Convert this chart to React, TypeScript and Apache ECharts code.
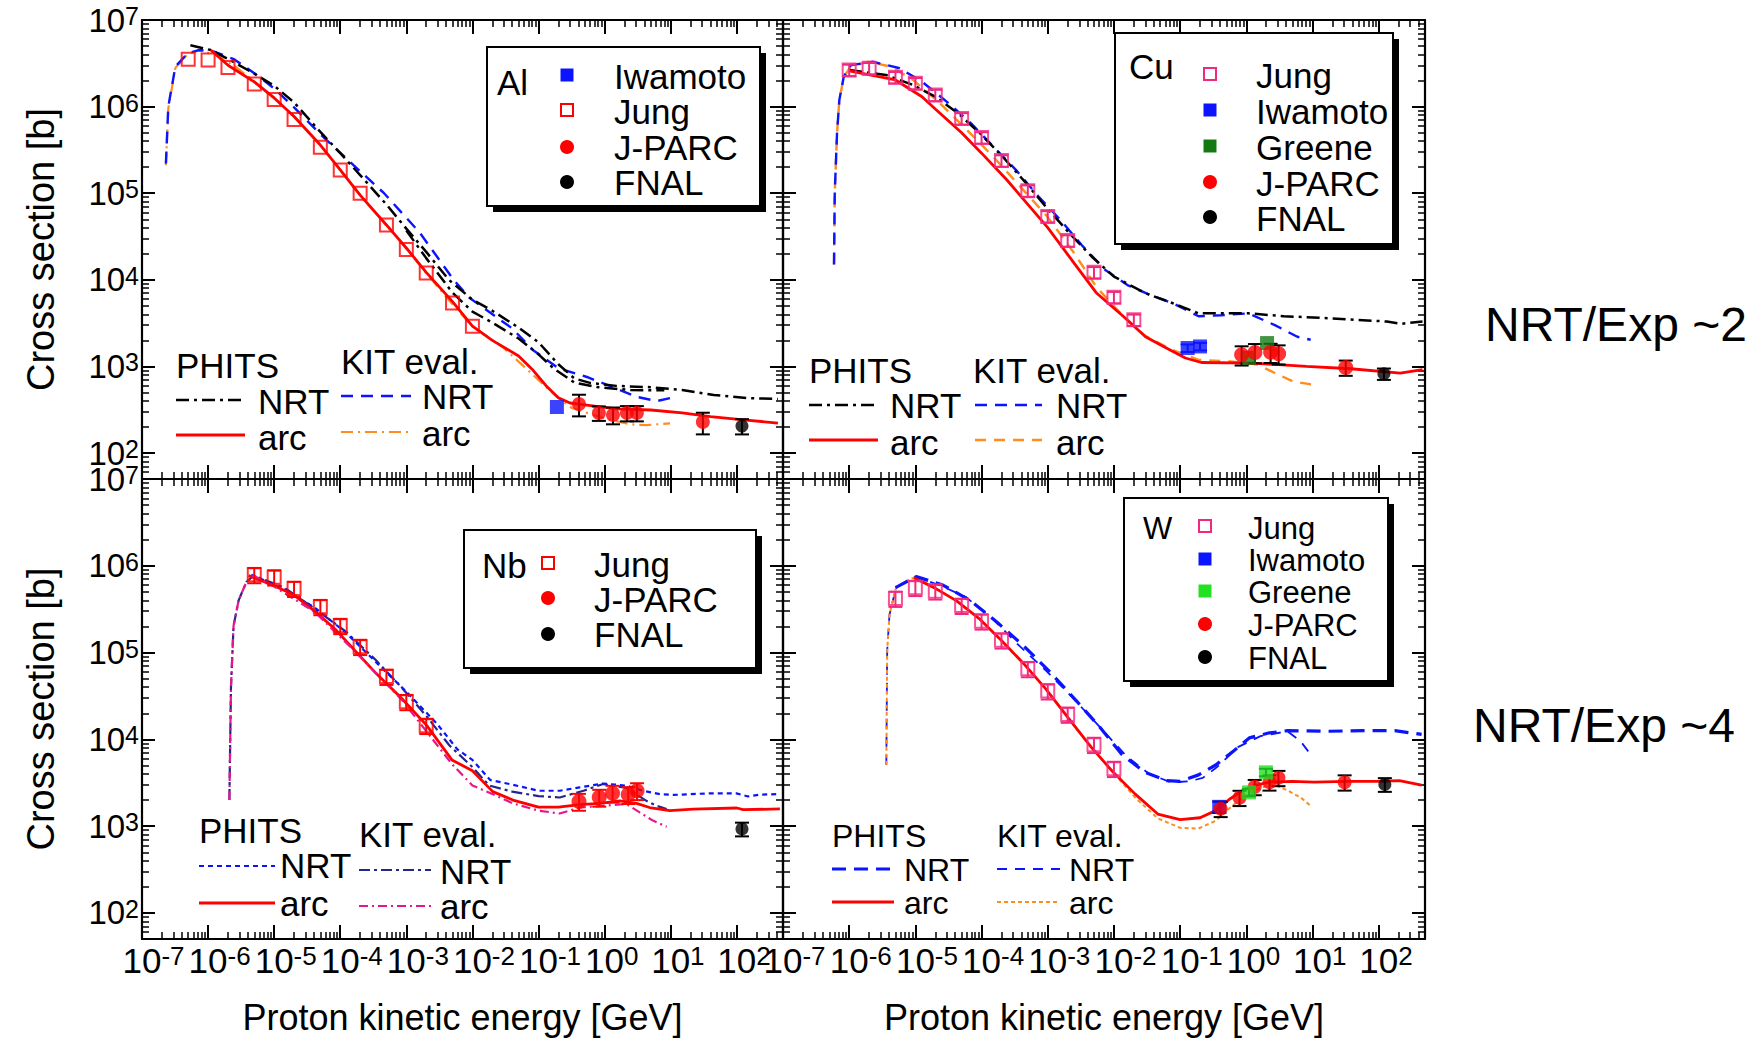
import React, { useEffect, useRef } from "react";
import * as echarts from "echarts";

type Pt = [number, number];
type Ex = [number, number, number]; // energy [GeV], cross section [b], relative error

const FONT = "'Liberation Sans', Arial, Helvetica, sans-serif";

// ---------- axes (exponents of ten) ----------
const X_MIN_EXP = -7;
const X_MAX_EXP = 2.7;
const Y_MIN_EXP = 1.7;
const Y_MAX_EXP = 7;
const X_TICK_EXP = [-7, -6, -5, -4, -3, -2, -1, 0, 1, 2];
const Y_TICK_EXP = [2, 3, 4, 5, 6, 7];
const X_TITLE = "Proton kinetic energy [GeV]";
const Y_TITLE = "Cross section [b]";

// ---------- Al ----------
const AL_JUNG: Ex[] = [
  [5e-7, 3.52e6, 0], [1e-6, 3.45e6, 0], [2e-6, 2.82e6, 0], [5e-6, 1.82e6, 0], [1e-5, 1.21e6, 0],
  [2e-5, 7.1e5, 0], [5e-5, 3.4e5, 0], [1e-4, 1.85e5, 0], [2e-4, 1.0e5, 0], [5e-4, 4.3e4, 0],
  [1e-3, 2.24e4, 0], [2e-3, 1.2e4, 0], [5e-3, 5.4e3, 0], [1e-2, 2.9e3, 0],
];
const AL_IWAMOTO: Ex[] = [[0.19, 340, 0]];
const AL_JPARC: Ex[] = [[0.41, 368, 0.28], [0.82, 290, 0.19], [1.34, 275, 0.22], [2.18, 290, 0.2], [3.08, 290, 0.2], [30.7, 228, 0.28]];
const AL_FNAL: Ex[] = [[120, 205, 0.2]];
const AL_PHITS_NRT: Pt[] = [
  [5.4e-7, 5.1e6], [1.1e-6, 4.5e6], [2e-6, 3.55e6], [5e-6, 2.4e6], [1e-5, 1.74e6], [2e-5, 1.12e6],
  [5e-5, 5.1e5], [1e-4, 2.9e5], [2e-4, 1.62e5], [5e-4, 7.4e4], [1e-3, 3.9e4], [2e-3, 2.1e4],
  [4.4e-3, 1.0e4], [1e-2, 5.9e3], [2e-2, 4.4e3], [5e-2, 2.8e3], [0.1, 1.9e3], [0.2, 1.06e3],
  [0.35, 725], [0.6, 645], [1.5, 596], [5, 575], [15, 535], [45, 468], [140, 432], [420, 421],
];
const AL_PHITS_NRT_2: Pt[] = [
  [1e-3, 3.7e4], [2e-3, 1.78e4], [5e-3, 7.1e3], [1e-2, 4.3e3], [2e-2, 3.2e3], [5e-2, 2.1e3],
  [0.1, 1.38e3], [0.17, 945], [0.35, 650], [0.8, 575], [2.5, 533], [8, 530],
];
const AL_PHITS_ARC: Pt[] = [
  [1.1e-6, 4.5e6], [2e-6, 3.0e6], [5e-6, 1.93e6], [1e-5, 1.26e6], [2e-5, 7.7e5], [5e-5, 3.6e5],
  [1e-4, 1.86e5], [2e-4, 9.5e4], [5e-4, 4.3e4], [1e-3, 2.33e4], [2e-3, 1.22e4], [5e-3, 5.6e3],
  [1e-2, 2.92e3], [2e-2, 2.0e3], [5e-2, 1.32e3], [0.08, 930], [0.13, 600], [0.2, 435], [0.3, 378],
  [0.5, 360], [1.5, 323], [5, 314], [15, 290], [40, 263], [140, 240], [420, 222],
];
const AL_KIT_NRT: Pt[] = [
  [2.3e-7, 2.2e5], [2.5e-7, 1.0e6], [3.2e-7, 2.9e6], [4.9e-7, 4.1e6], [7.2e-7, 4.5e6], [1.26e-6, 4.3e6],
  [2.5e-6, 3.5e6], [5e-6, 2.43e6], [1e-5, 1.62e6], [2e-5, 9.8e5], [5e-5, 4.8e5], [1.6e-4, 2.1e5],
  [4.6e-4, 1.0e5], [1.6e-3, 3.5e4], [5.2e-3, 1.0e4], [9e-3, 6.2e3], [4e-2, 2.75e3], [8.2e-2, 1.55e3],
  [0.2, 955], [0.54, 755], [1.2, 594], [3.1, 444], [6.2, 398], [9.8, 431],
];
const AL_KIT_ARC: Pt[] = [
  [2.3e-7, 2.1e5], [2.5e-7, 9.5e5], [3.2e-7, 2.8e6], [4.9e-7, 4.05e6], [7.2e-7, 4.45e6], [1.26e-6, 4.0e6],
  [2.5e-6, 2.95e6], [5e-6, 1.95e6], [1e-5, 1.26e6], [2e-5, 7.7e5], [5e-5, 3.6e5], [1e-4, 1.86e5],
  [2e-4, 9.5e4], [5e-4, 4.3e4], [1e-3, 2.3e4], [2e-3, 1.2e4], [5e-3, 5.2e3], [1e-2, 2.9e3],
  [2.9e-2, 1.66e3], [6e-2, 1.0e3], [0.19, 444], [0.32, 331], [1.0, 251], [2.5, 214], [4.3, 210], [9.8, 220],
];

// ---------- Cu ----------
const CU_JUNG: Ex[] = [
  [1e-6, 2.65e6, 0.15], [2e-6, 2.77e6, 0.15], [5e-6, 2.18e6, 0.15], [1e-5, 1.86e6, 0.15], [2e-5, 1.36e6, 0.15],
  [5e-5, 7.3e5, 0.15], [1e-4, 4.4e5, 0.15], [2e-4, 2.38e5, 0.15], [5e-4, 1.07e5, 0.15], [1e-3, 5.4e4, 0.15],
  [2e-3, 2.84e4, 0.15], [5e-3, 1.22e4, 0.15], [1e-2, 6.3e3, 0.15], [2e-2, 3.45e3, 0.15],
];
const CU_IWAMOTO: Ex[] = [[0.13, 1630, 0.1], [0.2, 1700, 0.1]];
const CU_GREENE: Ex[] = [[1.1, 1260, 0], [2.06, 1860, 0]];
const CU_JPARC: Ex[] = [[0.85, 1365, 0.25], [1.35, 1450, 0.25], [2.33, 1460, 0.25], [3.08, 1400, 0.25], [31.8, 973, 0.2]];
const CU_FNAL: Ex[] = [[120, 822, 0.15]];
const CU_PHITS_NRT: Pt[] = [
  [1e-6, 2.65e6], [3.6e-6, 2.32e6], [9.2e-6, 1.78e6], [2e-5, 1.3e6], [4.4e-5, 8.4e5], [9.5e-5, 4.9e5],
  [2.07e-4, 2.65e5], [4.5e-4, 1.36e5], [9.8e-4, 6.7e4], [2.13e-3, 3.45e4], [4.6e-3, 1.86e4], [1e-2, 1.09e4],
  [3e-2, 7.0e3], [7.6e-2, 5.4e3], [0.19, 4.1e3], [1.07, 4.1e3], [3.7, 3.8e3], [17.6, 3.6e3], [133, 3.3e3],
  [212, 3.1e3], [460, 3.3e3],
];
const CU_PHITS_ARC: Pt[] = [
  [1e-6, 2.58e6], [5e-6, 2.03e6], [1.26e-5, 1.3e6], [2e-5, 9.4e5], [5e-5, 5.0e5], [1e-4, 2.9e5],
  [2.4e-4, 1.43e5], [1e-3, 4.0e4], [2.5e-3, 1.56e4], [5.4e-3, 7.1e3], [1.38e-2, 3.8e3], [3e-2, 2.2e3],
  [5.6e-2, 1.7e3], [0.12, 1.25e3], [0.21, 1.11e3], [1.25, 1.09e3], [8.1, 1.0e3], [38, 940], [212, 838], [460, 916],
];
const CU_KIT_NRT: Pt[] = [
  [5.9e-7, 1.5e4], [6.05e-7, 1.0e5], [6.55e-7, 4.9e5], [7.1e-7, 1.19e6], [8.3e-7, 2.24e6], [1.05e-6, 3.0e6],
  [2.27e-6, 3.3e6], [5.8e-6, 2.77e6], [1.26e-5, 1.94e6], [3.2e-5, 1.09e6], [6.95e-5, 6.4e5], [1.51e-4, 3.45e5],
  [3.3e-4, 1.86e5], [7.2e-4, 9.2e4], [1.56e-3, 4.9e4], [3.4e-3, 2.43e4], [7.4e-3, 1.3e4], [1.6e-2, 8.7e3],
  [3.5e-2, 6.7e3], [7.6e-2, 5.4e3], [0.19, 3.8e3], [0.42, 3.9e3], [1.07, 4.1e3], [2.7, 3.0e3], [5.9, 2.2e3], [9.4, 2.03e3],
];
const CU_KIT_ARC: Pt[] = [
  [5.9e-7, 1.5e4], [6.05e-7, 1.0e5], [6.55e-7, 4.9e5], [7.1e-7, 1.19e6], [8.3e-7, 2.2e6], [1.05e-6, 2.9e6],
  [1.95e-6, 3.3e6], [4.2e-6, 2.9e6], [9.2e-6, 2.04e6], [2.34e-5, 1.1e6], [5.96e-5, 5.4e5], [1.51e-4, 2.63e5],
  [3.85e-4, 1.19e5], [9.8e-4, 5.4e4], [2.5e-3, 2.04e4], [5.4e-3, 8.3e3], [1.38e-2, 3.8e3], [3e-2, 2.24e3],
  [7.6e-2, 1.55e3], [0.19, 1.19e3], [0.58, 1.14e3], [1.46, 1.05e3], [2.7, 840], [5.1, 670], [10.2, 615],
];

// ---------- Nb ----------
const NB_JUNG: Ex[] = [
  [5e-6, 7.87e5, 0.2], [1e-5, 7.4e5, 0.2], [2e-5, 5.46e5, 0.2], [5e-5, 3.37e5, 0.2], [1e-4, 2.04e5, 0.2],
  [2e-4, 1.17e5, 0.2], [5e-4, 5.3e4, 0.2], [1e-3, 2.71e4, 0.2], [2e-3, 1.44e4, 0.2],
];
const NB_JPARC: Ex[] = [[0.41, 1930, 0.22], [0.83, 2150, 0.22], [1.32, 2390, 0.22], [2.28, 2310, 0.22], [3.1, 2560, 0.22]];
const NB_FNAL: Ex[] = [[120, 930, 0.18]];
const NB_PHITS_NRT: Pt[] = [
  [4.5e-6, 7.9e5], [1.43e-5, 5.35e5], [4.1e-5, 3.3e5], [1.19e-4, 1.72e5], [3.45e-4, 7.8e4], [1e-3, 3.55e4],
  [2.9e-3, 1.52e4], [5.9e-3, 7.7e3], [1e-2, 5.8e3], [1.86e-2, 3.4e3], [4.1e-2, 3.0e3], [0.1, 2.56e3],
  [0.21, 2.56e3], [0.42, 2.8e3], [0.95, 3.1e3], [2.15, 2.93e3], [3.84, 2.56e3], [6.9, 2.34e3], [10.9, 2.29e3],
  [39, 2.39e3], [99, 2.39e3], [148, 2.2e3], [224, 2.31e3], [450, 2.34e3],
];
const NB_PHITS_ARC: Pt[] = [
  [4.1e-6, 7.7e5], [1e-5, 5.9e5], [2e-5, 4.6e5], [4.1e-5, 3.0e5], [8.4e-5, 1.86e5], [1.7e-4, 1.04e5],
  [3.45e-4, 5.8e4], [8.4e-4, 3.0e4], [2.03e-3, 1.45e4], [4.9e-3, 5.8e3], [1e-2, 4.35e3], [2.03e-2, 2.5e3],
  [4.1e-2, 2.0e3], [0.1, 1.66e3], [0.2, 1.66e3], [0.42, 1.77e3], [0.85, 1.83e3], [1.7, 1.96e3], [3.05, 1.83e3],
  [4.8, 1.64e3], [9.7, 1.51e3], [22, 1.57e3], [100, 1.62e3], [125, 1.55e3], [450, 1.58e3],
];
const NB_KIT_NRT: Pt[] = [
  [2.1e-6, 2.0e3], [2.22e-6, 4.0e4], [2.43e-6, 2.04e5], [2.9e-6, 4.0e5], [3.8e-6, 6.5e5], [4.9e-6, 7.7e5],
  [1.43e-5, 5.6e5], [4.1e-5, 3.2e5], [1.19e-4, 1.77e5], [3.45e-4, 8.2e4], [8.4e-4, 4.0e4], [2.03e-3, 1.84e4],
  [4.5e-3, 8.5e3], [1e-2, 4.8e3], [1.78e-2, 2.95e3], [4e-2, 2.5e3], [0.1, 2.22e3], [0.21, 2.14e3],
  [0.48, 2.56e3], [0.95, 3.06e3], [2.15, 2.75e3], [4.3, 1.96e3], [6.1, 1.72e3], [8.7, 1.58e3],
];
const NB_KIT_ARC: Pt[] = [
  [2.1e-6, 2.0e3], [2.22e-6, 4.0e4], [2.43e-6, 2.04e5], [2.9e-6, 4.0e5], [3.8e-6, 6.5e5], [4.9e-6, 7.7e5],
  [1e-5, 5.75e5], [4.1e-5, 2.95e5], [1.7e-4, 1.02e5], [8.4e-4, 2.9e4], [4.9e-3, 5.2e3], [1e-2, 2.95e3],
  [2.04e-2, 2.33e3], [4.1e-2, 1.83e3], [0.1, 1.51e3], [0.21, 1.4e3], [0.42, 1.64e3], [2.15, 1.8e3],
  [3.4, 1.44e3], [5.4, 1.16e3], [8.7, 985],
];

// ---------- W ----------
const W_JUNG: Ex[] = [
  [5e-6, 4.2e5, 0.2], [1e-5, 5.6e5, 0.2], [2e-5, 5.1e5, 0.2], [5e-5, 3.48e5, 0.2], [1e-4, 2.3e5, 0.2],
  [2e-4, 1.39e5, 0.2], [5e-4, 6.5e4, 0.2], [1e-3, 3.6e4, 0.2], [2e-3, 1.94e4, 0.2], [5e-3, 8.7e3, 0.2], [1e-2, 4.6e3, 0.2],
];
const W_IWAMOTO: Ex[] = [[0.39, 1670, 0.15]];
const W_GREENE: Ex[] = [[1.1, 2450, 0.1], [1.98, 4170, 0.1]];
const W_JPARC: Ex[] = [[0.41, 1590, 0.2], [0.79, 2130, 0.2], [1.34, 2840, 0.2], [2.24, 3210, 0.2], [3.06, 3610, 0.2], [30.6, 3210, 0.2]];
const W_FNAL: Ex[] = [[124, 3030, 0.18]];
const W_PHITS_NRT: Pt[] = [
  [5e-6, 5.6e5], [1.03e-5, 7.5e5], [2.6e-5, 6.0e5], [6.7e-5, 4.0e5], [1.7e-4, 2.25e5], [4.3e-4, 1.2e5],
  [1.1e-3, 5.9e4], [2.8e-3, 2.7e4], [6.1e-3, 1.39e4], [1.32e-2, 6.7e3], [2.9e-2, 4.2e3], [6.3e-2, 3.34e3],
  [0.1, 3.28e3], [0.19, 3.9e3], [0.35, 5.1e3], [0.65, 7.4e3], [1.11, 1.04e4], [2.24, 1.19e4], [4.2, 1.26e4],
  [17, 1.24e4], [59, 1.26e4], [175, 1.26e4], [446, 1.14e4],
];
const W_PHITS_ARC: Pt[] = [
  [9.5e-6, 7.3e5], [1.92e-5, 5.6e5], [4.2e-5, 3.94e5], [9.1e-5, 2.48e5], [1.98e-4, 1.39e5], [4.3e-4, 7.5e4],
  [9.4e-4, 3.8e4], [2.05e-3, 1.76e4], [4.5e-3, 8.2e3], [9.7e-3, 4.2e3], [2.1e-2, 2.34e3], [4.6e-2, 1.38e3],
  [0.1, 1.19e3], [0.2, 1.25e3], [0.35, 1.52e3], [0.55, 2.03e3], [0.88, 2.58e3], [1.41, 2.98e3], [2.24, 3.21e3],
  [4.9, 3.28e3], [10.6, 3.21e3], [32, 3.28e3], [94, 3.28e3], [205, 3.34e3], [446, 2.98e3],
];
const W_KIT_NRT: Pt[] = [
  [3.64e-6, 5.1e3], [3.75e-6, 1.05e5], [4.06e-6, 2.73e5], [5.1e-6, 5.6e5], [7.6e-6, 6.8e5], [1.03e-5, 7.5e5],
  [2.6e-5, 5.75e5], [5.7e-5, 4.4e5], [1.45e-4, 2.48e5], [3.7e-4, 1.2e5], [9.4e-4, 6.2e4], [2.4e-3, 3.0e4],
  [6.1e-3, 1.39e4], [1.55e-2, 6.4e3], [3.4e-2, 4.0e3], [7.3e-2, 3.2e3], [0.136, 3.28e3], [0.22, 3.6e3],
  [0.35, 4.7e3], [0.76, 8.2e3], [1.64, 1.09e4], [4.2, 1.24e4], [6.7, 9.4e3], [9.8, 6.4e3],
];
const W_KIT_ARC: Pt[] = [
  [3.64e-6, 5.1e3], [3.75e-6, 1.05e5], [4.06e-6, 2.73e5], [5.1e-6, 5.6e5], [7.6e-6, 6.8e5], [1.03e-5, 7.5e5],
  [1.92e-5, 5.6e5], [4.2e-5, 3.94e5], [9.1e-5, 2.48e5], [1.98e-4, 1.39e5], [4.3e-4, 7.5e4], [9.4e-4, 3.8e4],
  [2.05e-3, 1.76e4], [4.5e-3, 8.2e3], [9.7e-3, 4.2e3], [2.1e-2, 2.13e3], [4.6e-2, 1.23e3], [0.1, 957],
  [0.19, 940], [0.35, 1.16e3], [0.55, 1.6e3], [0.88, 2.13e3], [1.64, 2.76e3], [2.62, 3.03e3], [4.2, 2.58e3],
  [6.7, 2.13e3], [9.1, 1.75e3],
];

// ---------- styles ----------
const RED = "#ff0000";
const BLUE = "#0a14ff";
const ORANGE = "#ff8c1e";
const PINK = "#f2287e";
const NAVY = "#24268c";
const MAGENTA = "#e8168c";
const DKGREEN = "#137a13";
const LIME = "#22e022";

type LS = { color: string; width: number; dash: number[] | null };
const S_PHITS_NRT_BLACK: LS = { color: "#000", width: 2.5, dash: [13, 5, 3, 5] };
const S_PHITS_ARC: LS = { color: RED, width: 2.8, dash: null };
const S_KIT_NRT_BLUE: LS = { color: BLUE, width: 2.4, dash: [12, 8] };
const S_AL_KIT_ARC: LS = { color: ORANGE, width: 2.2, dash: [12, 5, 2, 5] };
const S_CU_KIT_ARC: LS = { color: ORANGE, width: 2.4, dash: [11, 8] };
const S_NB_PHITS_NRT: LS = { color: BLUE, width: 2.2, dash: [5, 4] };
const S_NB_KIT_NRT: LS = { color: NAVY, width: 2.2, dash: [11, 4, 3, 4] };
const S_NB_KIT_ARC: LS = { color: MAGENTA, width: 2.2, dash: [9, 4, 2, 4] };
const S_W_PHITS_NRT: LS = { color: BLUE, width: 3.2, dash: [14, 8] };
const S_W_KIT_NRT: LS = { color: BLUE, width: 1.8, dash: [10, 8] };
const S_W_KIT_ARC: LS = { color: ORANGE, width: 2, dash: [4, 3] };

const GRIDS = [
  { left: 142, top: 20, width: 641, height: 459 },
  { left: 783, top: 20, width: 642, height: 459 },
  { left: 142, top: 479, width: 641, height: 460 },
  { left: 783, top: 479, width: 642, height: 460 },
];

const lg = (v: number) => Math.log10(v);

function minorValues(from: number, to: number, lo: number, hi: number) {
  const out: number[] = [];
  for (let n = from; n <= to; n++) {
    for (let k = 2; k <= 9; k++) {
      const v = n + Math.log10(k);
      if (v > lo && v < hi) out.push(v);
    }
  }
  return out;
}

// x labels: "10" centred on its tick, exponent hanging to the right
const X_B = 35;
const X_S = 26;
const PX_PER_DECADE = 641 / (X_MAX_EXP - X_MIN_EXP);
const supWidth = (e: number) => X_S * ((e < 0 ? 0.333 : 0) + 0.556 * String(Math.abs(e)).length);
const X_LABEL_POS = X_TICK_EXP.map((e) => e + supWidth(e) / 2 / PX_PER_DECADE);

const X_RICH = {
  b: { fontSize: X_B, lineHeight: X_B, padding: [7, 0, 0, 0], verticalAlign: "bottom", fontFamily: FONT, color: "#000" },
  s: { fontSize: X_S, lineHeight: X_S, verticalAlign: "top", fontFamily: FONT, color: "#000" },
};
const Y_RICH = {
  b: { fontSize: 33, lineHeight: 33, padding: [5, 0, 0, 0], verticalAlign: "bottom", fontFamily: FONT, color: "#000" },
  s: { fontSize: 25, lineHeight: 25, verticalAlign: "top", fontFamily: FONT, color: "#000" },
};

const isInt = (v: number) => Math.abs(v - Math.round(v)) < 1e-9;
const xFmt = (v: number) => `{b|10}{s|${Math.round(v)}}`;
const yFmt = (v: number) => (isInt(v) ? `{b|10}{s|${Math.round(v)}}` : "");

function buildOption() {
  const X_MINOR = minorValues(-7, 2, X_MIN_EXP, X_MAX_EXP);
  const Y_MINOR = minorValues(1, 6, Y_MIN_EXP, Y_MAX_EXP);

  const xAxes: any[] = [];
  const yAxes: any[] = [];
  const axisBase = { type: "value", silent: true, splitLine: { show: false }, minorTick: { show: false }, axisPointer: { show: false } };

  GRIDS.forEach((_, gi) => {
    const showX = gi >= 2;
    const showY = gi % 2 === 0;
    ["bottom", "top"].forEach((pos) => {
      const lab = pos === "bottom" && showX;
      xAxes.push({
        ...axisBase, gridIndex: gi, position: pos, min: X_MIN_EXP, max: X_MAX_EXP,
        axisLine: { show: true, onZero: false, lineStyle: { color: "#000", width: 2.2 } },
        axisTick: { show: true, inside: true, length: 14, customValues: X_TICK_EXP, lineStyle: { color: "#000", width: 2 } },
        axisLabel: { show: false },
        name: lab ? X_TITLE : "", nameLocation: "middle", nameGap: 60,
        nameTextStyle: { fontSize: 36, fontFamily: FONT, color: "#000" },
      });
      xAxes.push({
        ...axisBase, gridIndex: gi, position: pos, min: X_MIN_EXP, max: X_MAX_EXP,
        axisLine: { show: false, onZero: false },
        axisTick: { show: true, inside: true, length: 7, customValues: X_MINOR, lineStyle: { color: "#000", width: 1.5 } },
        axisLabel: lab
          ? { show: true, customValues: X_LABEL_POS, margin: 4, formatter: xFmt, rich: X_RICH, color: "#000", hideOverlap: false, showMinLabel: true, showMaxLabel: true }
          : { show: false },
      });
    });
    ["left", "right"].forEach((pos) => {
      const lab = pos === "left" && showY;
      yAxes.push({
        ...axisBase, gridIndex: gi, position: pos, min: Y_MIN_EXP, max: Y_MAX_EXP,
        axisLine: { show: true, onZero: false, lineStyle: { color: "#000", width: 2.2 } },
        axisTick: { show: true, inside: true, length: 13, customValues: Y_TICK_EXP, lineStyle: { color: "#000", width: 2 } },
        axisLabel: lab
          ? { show: true, customValues: Y_TICK_EXP, margin: 3, formatter: yFmt, rich: Y_RICH, color: "#000", hideOverlap: false, showMinLabel: true, showMaxLabel: true }
          : { show: false },
        name: lab ? Y_TITLE : "", nameLocation: "middle", nameGap: 82, nameRotate: 90,
        nameTextStyle: { fontSize: 38, fontFamily: FONT, color: "#000" },
      });
      yAxes.push({
        ...axisBase, gridIndex: gi, position: pos, min: Y_MIN_EXP, max: Y_MAX_EXP,
        axisLine: { show: false, onZero: false },
        axisTick: { show: true, inside: true, length: 7, customValues: Y_MINOR, lineStyle: { color: "#000", width: 1.5 } },
        axisLabel: { show: false },
      });
    });
  });

  const series: any[] = [];
  const line = (g: number, name: string, data: Pt[], st: LS) =>
    series.push({
      type: "line", name, xAxisIndex: 4 * g, yAxisIndex: 4 * g, z: 2, silent: true,
      symbol: "none", showSymbol: false, animation: false,
      data: data.map(([e, s]) => [lg(e), lg(s)]),
      lineStyle: { color: st.color, width: st.width, type: st.dash ? st.dash : "solid", cap: "butt" },
    });
  const errs = (g: number, name: string, data: Ex[], color: string) =>
    series.push({
      type: "custom", name: name + " err", xAxisIndex: 4 * g, yAxisIndex: 4 * g, z: 3, silent: true,
      data: data.filter((d) => d[2] > 0).map(([e, s, f]) => [lg(e), lg(s * (1 - f)), lg(s * (1 + f))]),
      encode: { x: 0, y: [1, 2] },
      renderItem: (_p: any, api: any) => {
        const x = api.value(0);
        const a = api.coord([x, api.value(1)]);
        const b = api.coord([x, api.value(2)]);
        const w = 7;
        const st = { stroke: color, lineWidth: 2 };
        return {
          type: "group",
          children: [
            { type: "line", shape: { x1: a[0], y1: a[1], x2: b[0], y2: b[1] }, style: st },
            { type: "line", shape: { x1: a[0] - w, y1: a[1], x2: a[0] + w, y2: a[1] }, style: st },
            { type: "line", shape: { x1: b[0] - w, y1: b[1], x2: b[0] + w, y2: b[1] }, style: st },
          ],
        };
      },
    });
  const pts = (g: number, name: string, data: Ex[], symbol: string, size: number, color: string, open = false) =>
    series.push({
      type: "scatter", name, xAxisIndex: 4 * g, yAxisIndex: 4 * g, z: 4, silent: true,
      data: data.map(([e, s]) => [lg(e), lg(s)]),
      symbol, symbolSize: size,
      itemStyle: open ? { color: "rgba(0,0,0,0)", borderColor: color, borderWidth: 2 } : { color, borderWidth: 0 },
    });

  // Al
  line(0, "KIT eval. arc", AL_KIT_ARC, S_AL_KIT_ARC);
  line(0, "KIT eval. NRT", AL_KIT_NRT, S_KIT_NRT_BLUE);
  line(0, "PHITS NRT", AL_PHITS_NRT, S_PHITS_NRT_BLACK);
  line(0, "PHITS NRT (2)", AL_PHITS_NRT_2, S_PHITS_NRT_BLACK);
  line(0, "PHITS arc", AL_PHITS_ARC, S_PHITS_ARC);
  errs(0, "J-PARC", AL_JPARC, "#000");
  errs(0, "FNAL", AL_FNAL, "#000");
  pts(0, "Jung", AL_JUNG, "rect", 13, RED, true);
  pts(0, "Iwamoto", AL_IWAMOTO, "rect", 14, BLUE);
  pts(0, "J-PARC", AL_JPARC, "circle", 14, RED);
  pts(0, "FNAL", AL_FNAL, "circle", 13, "#000");

  // Cu
  line(1, "KIT eval. arc", CU_KIT_ARC, S_CU_KIT_ARC);
  line(1, "KIT eval. NRT", CU_KIT_NRT, S_KIT_NRT_BLUE);
  line(1, "PHITS NRT", CU_PHITS_NRT, S_PHITS_NRT_BLACK);
  line(1, "PHITS arc", CU_PHITS_ARC, S_PHITS_ARC);
  errs(1, "Jung", CU_JUNG, PINK);
  errs(1, "Iwamoto", CU_IWAMOTO, BLUE);
  errs(1, "J-PARC", CU_JPARC, "#000");
  errs(1, "FNAL", CU_FNAL, "#000");
  pts(1, "Jung", CU_JUNG, "rect", 13, PINK, true);
  pts(1, "Iwamoto", CU_IWAMOTO, "rect", 14, BLUE);
  pts(1, "Greene", CU_GREENE, "rect", 14, DKGREEN);
  pts(1, "J-PARC", CU_JPARC, "circle", 15, RED);
  pts(1, "FNAL", CU_FNAL, "circle", 13, "#000");

  // Nb
  line(2, "KIT eval. NRT", NB_KIT_NRT, S_NB_KIT_NRT);
  line(2, "PHITS NRT", NB_PHITS_NRT, S_NB_PHITS_NRT);
  line(2, "PHITS arc", NB_PHITS_ARC, S_PHITS_ARC);
  line(2, "KIT eval. arc", NB_KIT_ARC, S_NB_KIT_ARC);
  errs(2, "Jung", NB_JUNG, RED);
  errs(2, "J-PARC", NB_JPARC, RED);
  errs(2, "FNAL", NB_FNAL, "#000");
  pts(2, "Jung", NB_JUNG, "rect", 13, RED, true);
  pts(2, "J-PARC", NB_JPARC, "circle", 15, RED);
  pts(2, "FNAL", NB_FNAL, "circle", 13, "#000");

  // W
  line(3, "KIT eval. NRT", W_KIT_NRT, S_W_KIT_NRT);
  line(3, "KIT eval. arc", W_KIT_ARC, S_W_KIT_ARC);
  line(3, "PHITS NRT", W_PHITS_NRT, S_W_PHITS_NRT);
  line(3, "PHITS arc", W_PHITS_ARC, S_PHITS_ARC);
  errs(3, "Jung", W_JUNG, PINK);
  errs(3, "Iwamoto", W_IWAMOTO, "#000");
  errs(3, "Greene", W_GREENE, "#000");
  errs(3, "J-PARC", W_JPARC, "#000");
  errs(3, "FNAL", W_FNAL, "#000");
  pts(3, "Jung", W_JUNG, "rect", 13, PINK, true);
  pts(3, "Iwamoto", W_IWAMOTO, "rect", 14, BLUE);
  pts(3, "J-PARC", W_JPARC, "circle", 14, RED);
  pts(3, "Greene", W_GREENE, "rect", 14, LIME);
  pts(3, "FNAL", W_FNAL, "circle", 13, "#000");

  // ---------- hand-drawn legends ----------
  const G: any[] = [];
  const T = (x: number, y: number, text: string, size = 35) =>
    G.push({
      type: "text", x, y, z: 60, silent: true,
      style: { text, fontSize: size, fontFamily: FONT, fill: "#000", align: "left", verticalAlign: "middle", textAlign: "left", textVerticalAlign: "middle" },
    });
  const L = (x1: number, x2: number, y: number, st: LS) =>
    G.push({ type: "line", z: 60, silent: true, shape: { x1, y1: y, x2, y2: y }, style: { stroke: st.color, lineWidth: st.width, lineDash: st.dash || undefined } });
  const BOX = (x: number, y: number, w: number, h: number) => {
    G.push({ type: "rect", z: 55, silent: true, shape: { x: x + 6, y: y + 6, width: w, height: h }, style: { fill: "#000" } });
    G.push({ type: "rect", z: 56, silent: true, shape: { x, y, width: w, height: h }, style: { fill: "#fff", stroke: "#000", lineWidth: 2 } });
  };
  const SQ = (cx: number, cy: number, size: number, color: string, open = false) =>
    G.push({
      type: "rect", z: 60, silent: true, shape: { x: cx - size / 2, y: cy - size / 2, width: size, height: size },
      style: open ? { fill: "none", stroke: color, lineWidth: 2 } : { fill: color },
    });
  const CI = (cx: number, cy: number, r: number, color: string) =>
    G.push({ type: "circle", z: 60, silent: true, shape: { cx, cy, r }, style: { fill: color } });

  // Al box
  BOX(487, 47, 273, 159);
  T(497, 82, "Al");
  SQ(567, 75, 13, BLUE); T(614, 76, "Iwamoto");
  SQ(567, 110, 12, RED, true); T(614, 111, "Jung");
  CI(567, 147, 7, RED); T(614, 147, "J-PARC");
  CI(567, 182, 7, "#000"); T(614, 182, "FNAL");
  // Al model legend
  T(176, 365, "PHITS"); T(341, 361, "KIT eval.");
  L(176, 245, 400, S_PHITS_NRT_BLACK); T(258, 401, "NRT");
  L(341, 411, 396, S_KIT_NRT_BLUE); T(422, 396, "NRT");
  L(176, 245, 435, S_PHITS_ARC); T(258, 437, "arc");
  L(341, 411, 432, S_AL_KIT_ARC); T(422, 433, "arc");

  // Cu box
  BOX(1115, 33, 278, 211);
  T(1129, 66, "Cu");
  SQ(1210, 74, 12, PINK, true); T(1256, 75, "Jung");
  SQ(1210, 110, 13, BLUE); T(1256, 111, "Iwamoto");
  SQ(1210, 146, 13, DKGREEN); T(1256, 147, "Greene");
  CI(1210, 182, 7, RED); T(1256, 183, "J-PARC");
  CI(1210, 217, 7, "#000"); T(1256, 218, "FNAL");
  // Cu model legend
  T(809, 370, "PHITS"); T(973, 370, "KIT eval.");
  L(809, 878, 405, S_PHITS_NRT_BLACK); T(890, 405, "NRT");
  L(975, 1042, 405, S_KIT_NRT_BLUE); T(1056, 405, "NRT");
  L(809, 878, 440, S_PHITS_ARC); T(890, 442, "arc");
  L(975, 1042, 440, S_CU_KIT_ARC); T(1056, 442, "arc");

  // Nb box
  BOX(464, 530, 292, 138);
  T(482, 565, "Nb");
  SQ(548, 563, 12, RED, true); T(594, 564, "Jung");
  CI(548, 598, 7, RED); T(594, 599, "J-PARC");
  CI(548, 634, 7, "#000"); T(594, 634, "FNAL");
  // Nb model legend
  T(199, 830, "PHITS"); T(359, 834, "KIT eval.");
  L(199, 275, 866, S_NB_PHITS_NRT); T(280, 865, "NRT");
  L(359, 431, 870, S_NB_KIT_NRT); T(440, 871, "NRT");
  L(199, 275, 903, S_PHITS_ARC); T(280, 903, "arc");
  L(359, 431, 906, S_NB_KIT_ARC); T(440, 906, "arc");

  // W box
  BOX(1124, 498, 264, 183);
  T(1143, 528, "W", 31);
  SQ(1205, 526, 12, PINK, true); T(1248, 528, "Jung", 31);
  SQ(1205, 559, 13, BLUE); T(1248, 560, "Iwamoto", 31);
  SQ(1205, 591, 13, LIME); T(1248, 592, "Greene", 31);
  CI(1205, 624, 7, RED); T(1248, 625, "J-PARC", 31);
  CI(1205, 657, 7, "#000"); T(1248, 658, "FNAL", 31);
  // W model legend
  T(832, 836, "PHITS", 32); T(997, 836, "KIT eval.", 32);
  L(832, 894, 869, S_W_PHITS_NRT); T(904, 870, "NRT", 32);
  L(997, 1060, 869, S_W_KIT_NRT); T(1069, 870, "NRT", 32);
  L(832, 894, 902, S_PHITS_ARC); T(904, 903, "arc", 32);
  L(997, 1060, 902, S_W_KIT_ARC); T(1069, 903, "arc", 32);

  // right-hand notes
  T(1485, 324, "NRT/Exp ~2", 48);
  T(1473, 725, "NRT/Exp ~4", 48);

  return {
    animation: false,
    backgroundColor: "#ffffff",
    textStyle: { fontFamily: FONT },
    grid: GRIDS.map((g) => ({ ...g, containLabel: false, outerBoundsMode: "none", show: false })),
    xAxis: xAxes,
    yAxis: yAxes,
    series,
    graphic: { elements: G },
  };
}

export default function App() {
  const ref = useRef<HTMLDivElement>(null);
  useEffect(() => {
    if (!ref.current) return;
    const chart = echarts.init(ref.current, null, { renderer: "svg" });
    chart.setOption(buildOption() as any);
    return () => chart.dispose();
  }, []);
  return <div ref={ref} style={{ position: "absolute", left: 0, top: 0, width: 1757, height: 1038, background: "#fff" }} />;
}
